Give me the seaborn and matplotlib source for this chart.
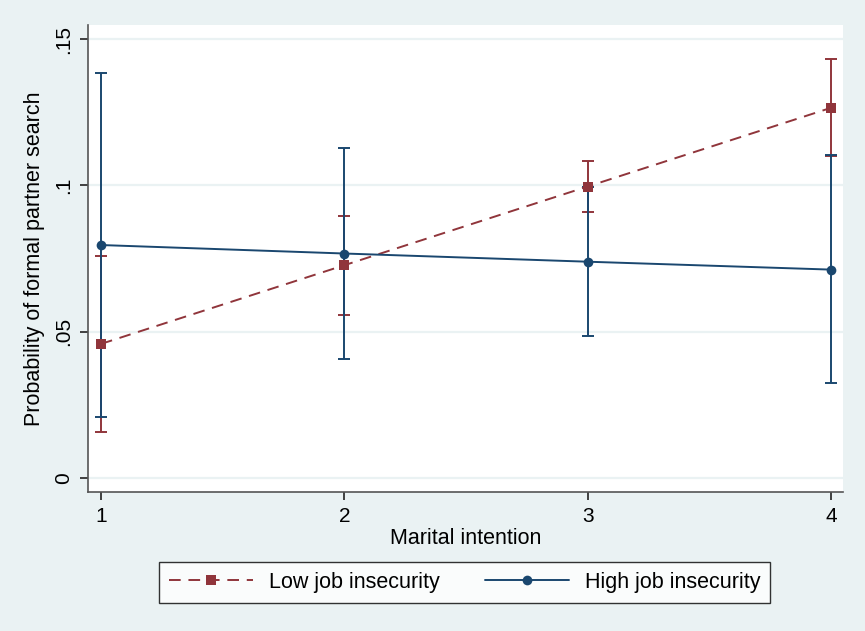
import numpy as np
import pandas as pd
import matplotlib
matplotlib.use("Agg")
import matplotlib.pyplot as plt
import seaborn as sns
from matplotlib.lines import Line2D

# values
intention = [1, 2, 3, 4]
low_est = [0.0458, 0.0727, 0.0996, 0.1265]
low_lo = [0.0157, 0.0558, 0.0909, 0.1100]
low_hi = [0.0760, 0.0895, 0.1083, 0.1432]
high_est = [0.0796, 0.0767, 0.0739, 0.0712]
high_lo = [0.0208, 0.0408, 0.0485, 0.0323]
high_hi = [0.1384, 0.1128, 0.0993, 0.1102]

red = "#90353B"
blue = "#1A476F"
bg = "#EAF2F3"

sns.set_style("white")
plt.rcParams["font.family"] = ["Liberation Sans", "DejaVu Sans"]
plt.rcParams["text.color"] = "black"
plt.rcParams["axes.labelcolor"] = "black"
plt.rcParams["xtick.color"] = "black"
plt.rcParams["ytick.color"] = "black"

df = pd.DataFrame({
    "x": intention * 2,
    "y": low_est + high_est,
    "group": ["Low job insecurity"] * 4 + ["High job insecurity"] * 4,
})

fig = plt.figure(figsize=(8.65, 6.31), dpi=100, facecolor=bg)
ax = fig.add_axes([0.1017, 0.2203, 0.8729, 0.7401])
ax.set_facecolor("white")

# confidence intervals
ax.errorbar(intention, low_est,
            yerr=[np.subtract(low_est, low_lo), np.subtract(low_hi, low_est)],
            fmt="none", ecolor=red, elinewidth=1.4, capsize=4.5, capthick=1.4, zorder=2)
ax.errorbar(intention, high_est,
            yerr=[np.subtract(high_est, high_lo), np.subtract(high_hi, high_est)],
            fmt="none", ecolor=blue, elinewidth=1.4, capsize=4.5, capthick=1.4, zorder=2)

sns.lineplot(data=df, x="x", y="y", hue="group", style="group",
             palette={"Low job insecurity": red, "High job insecurity": blue},
             markers={"Low job insecurity": "s", "High job insecurity": "o"},
             dashes={"Low job insecurity": (6, 4), "High job insecurity": ""},
             markersize=7, markeredgewidth=0, linewidth=1.4, legend=False, ax=ax, zorder=3)

ax.set_xlim(0.9466, 4.049)
ax.set_ylim(-0.0048, 0.1548)
ax.set_xticks([1, 2, 3, 4])
ax.set_xticklabels(["1", "2", "3", "4"])
ax.set_yticks([0, 0.05, 0.10, 0.15])
ax.set_yticklabels(["0", ".05", ".1", ".15"], rotation=90, va="center")
ax.grid(axis="y", color=bg, linewidth=1.6)
ax.set_axisbelow(True)

for s in ["top", "right"]:
    ax.spines[s].set_visible(False)
for s in ["left", "bottom"]:
    ax.spines[s].set_color("#555555")
    ax.spines[s].set_linewidth(1.2)
ax.tick_params(axis="both", direction="out", length=6, width=1.2, color="#222222",
               labelsize=15, pad=5, left=True, bottom=True)

ax.set_xlabel("Marital intention", fontsize=15.5, labelpad=1)
ax.set_ylabel("Probability of formal partner search", fontsize=15.5, labelpad=6)

handles = [
    Line2D([], [], color=red, linestyle=(0, (6, 4)), marker="s", markersize=7,
           markeredgewidth=0, linewidth=1.4),
    Line2D([], [], color=blue, linestyle="-", marker="o", markersize=7,
           markeredgewidth=0, linewidth=1.4),
]
leg = fig.legend(handles, ["Low job insecurity", "High job insecurity"],
                 loc="center", bbox_to_anchor=(0.537, 0.0769), ncol=2,
                 fontsize=15.5, frameon=True, fancybox=False, handlelength=3.9,
                 columnspacing=2.1, handletextpad=0.75, borderpad=0.45,
                 borderaxespad=0)
leg.get_frame().set_edgecolor("black")
leg.get_frame().set_linewidth(1.0)
leg.get_frame().set_facecolor("white")

fig.savefig("out.png", dpi=100, facecolor=bg)
